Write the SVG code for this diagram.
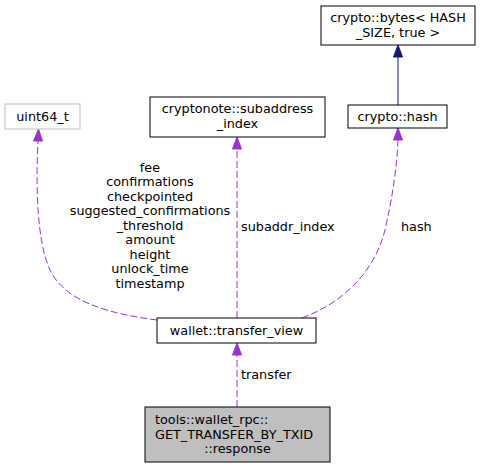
<svg xmlns="http://www.w3.org/2000/svg" width="485" height="468" viewBox="0 0 485 468">
<style>
text{font-family:"DejaVu Sans",sans-serif;font-size:12.8px;fill:#000}
.n{fill:#fff;stroke:#000;stroke-width:1}
.g{fill:#fff;stroke:#bfbfbf;stroke-width:1}
.e{fill:none;stroke:#9a32cd;stroke-width:1;stroke-dasharray:7,3}
.m{text-anchor:middle}
</style>
<rect width="485" height="468" fill="#fff"/>
<g id="edges">
<path class="e" d="M157,320 C110,314 65,302 50,270 C36,240 36,180 38,141"/>
<polygon fill="#9a32cd" stroke="#9a32cd" points="33.5,141 38.5,129 42.5,141"/>
<path class="e" d="M237,318 L237,149"/>
<polygon fill="#9a32cd" stroke="#9a32cd" points="232.5,149 237,137 241.5,149"/>
<path class="e" d="M302,318 C345,302 375,270 385,230 C393,195 397,165 398,140"/>
<polygon fill="#9a32cd" stroke="#9a32cd" points="393.5,140 398,128 402.5,140"/>
<path class="e" d="M237,407 L237,355"/>
<polygon fill="#9a32cd" stroke="#9a32cd" points="232.5,355 237,343 241.5,355"/>
<path fill="none" stroke="#191970" stroke-width="1" d="M398,105 L398,57"/>
<polygon fill="#191970" stroke="#191970" points="393.5,57 398,45 402.5,57"/>
<g class="lbl">
<text class="m" x="150" y="171.5">fee</text>
<text class="m" x="150" y="186">confirmations</text>
<text class="m" x="150" y="200.5">checkpointed</text>
<text class="m" x="150" y="215">suggested_confirmations</text>
<text class="m" x="150" y="229.5">_threshold</text>
<text class="m" x="150" y="244">amount</text>
<text class="m" x="150" y="258.5">height</text>
<text class="m" x="150" y="273">unlock_time</text>
<text class="m" x="150" y="287.5">timestamp</text>
<text x="241" y="231">subaddr_index</text>
<text x="401" y="231">hash</text>
<text x="241" y="379">transfer</text>
</g>
</g>
<g id="node-response">
<rect x="145" y="407" width="185" height="55" fill="#bfbfbf" stroke="#000"/>
<text x="155" y="424">tools::wallet_rpc::</text>
<text x="155" y="438.5">GET_TRANSFER_BY_TXID</text>
<text class="m" x="237.5" y="453">::response</text>
</g>
<g id="node-transfer_view">
<rect class="n" x="157" y="318" width="159" height="25"/>
<text class="m" x="236.5" y="335">wallet::transfer_view</text>
</g>
<g id="node-uint64_t">
<rect class="g" x="5" y="104" width="75" height="25"/>
<text class="m" x="42.5" y="121">uint64_t</text>
</g>
<g id="node-subaddress_index">
<rect class="n" x="150" y="97" width="175" height="40"/>
<text class="m" x="237.5" y="113">cryptonote::subaddress</text>
<text class="m" x="237.5" y="127.5">_index</text>
</g>
<g id="node-hash">
<rect class="n" x="348" y="105" width="99" height="23"/>
<text class="m" x="397.5" y="121">crypto::hash</text>
</g>
<g id="node-bytes">
<rect class="n" x="321" y="6" width="154" height="39"/>
<text class="m" x="398" y="22">crypto::bytes&lt; HASH</text>
<text class="m" x="398" y="36.5">_SIZE, true &gt;</text>
</g>
</svg>
